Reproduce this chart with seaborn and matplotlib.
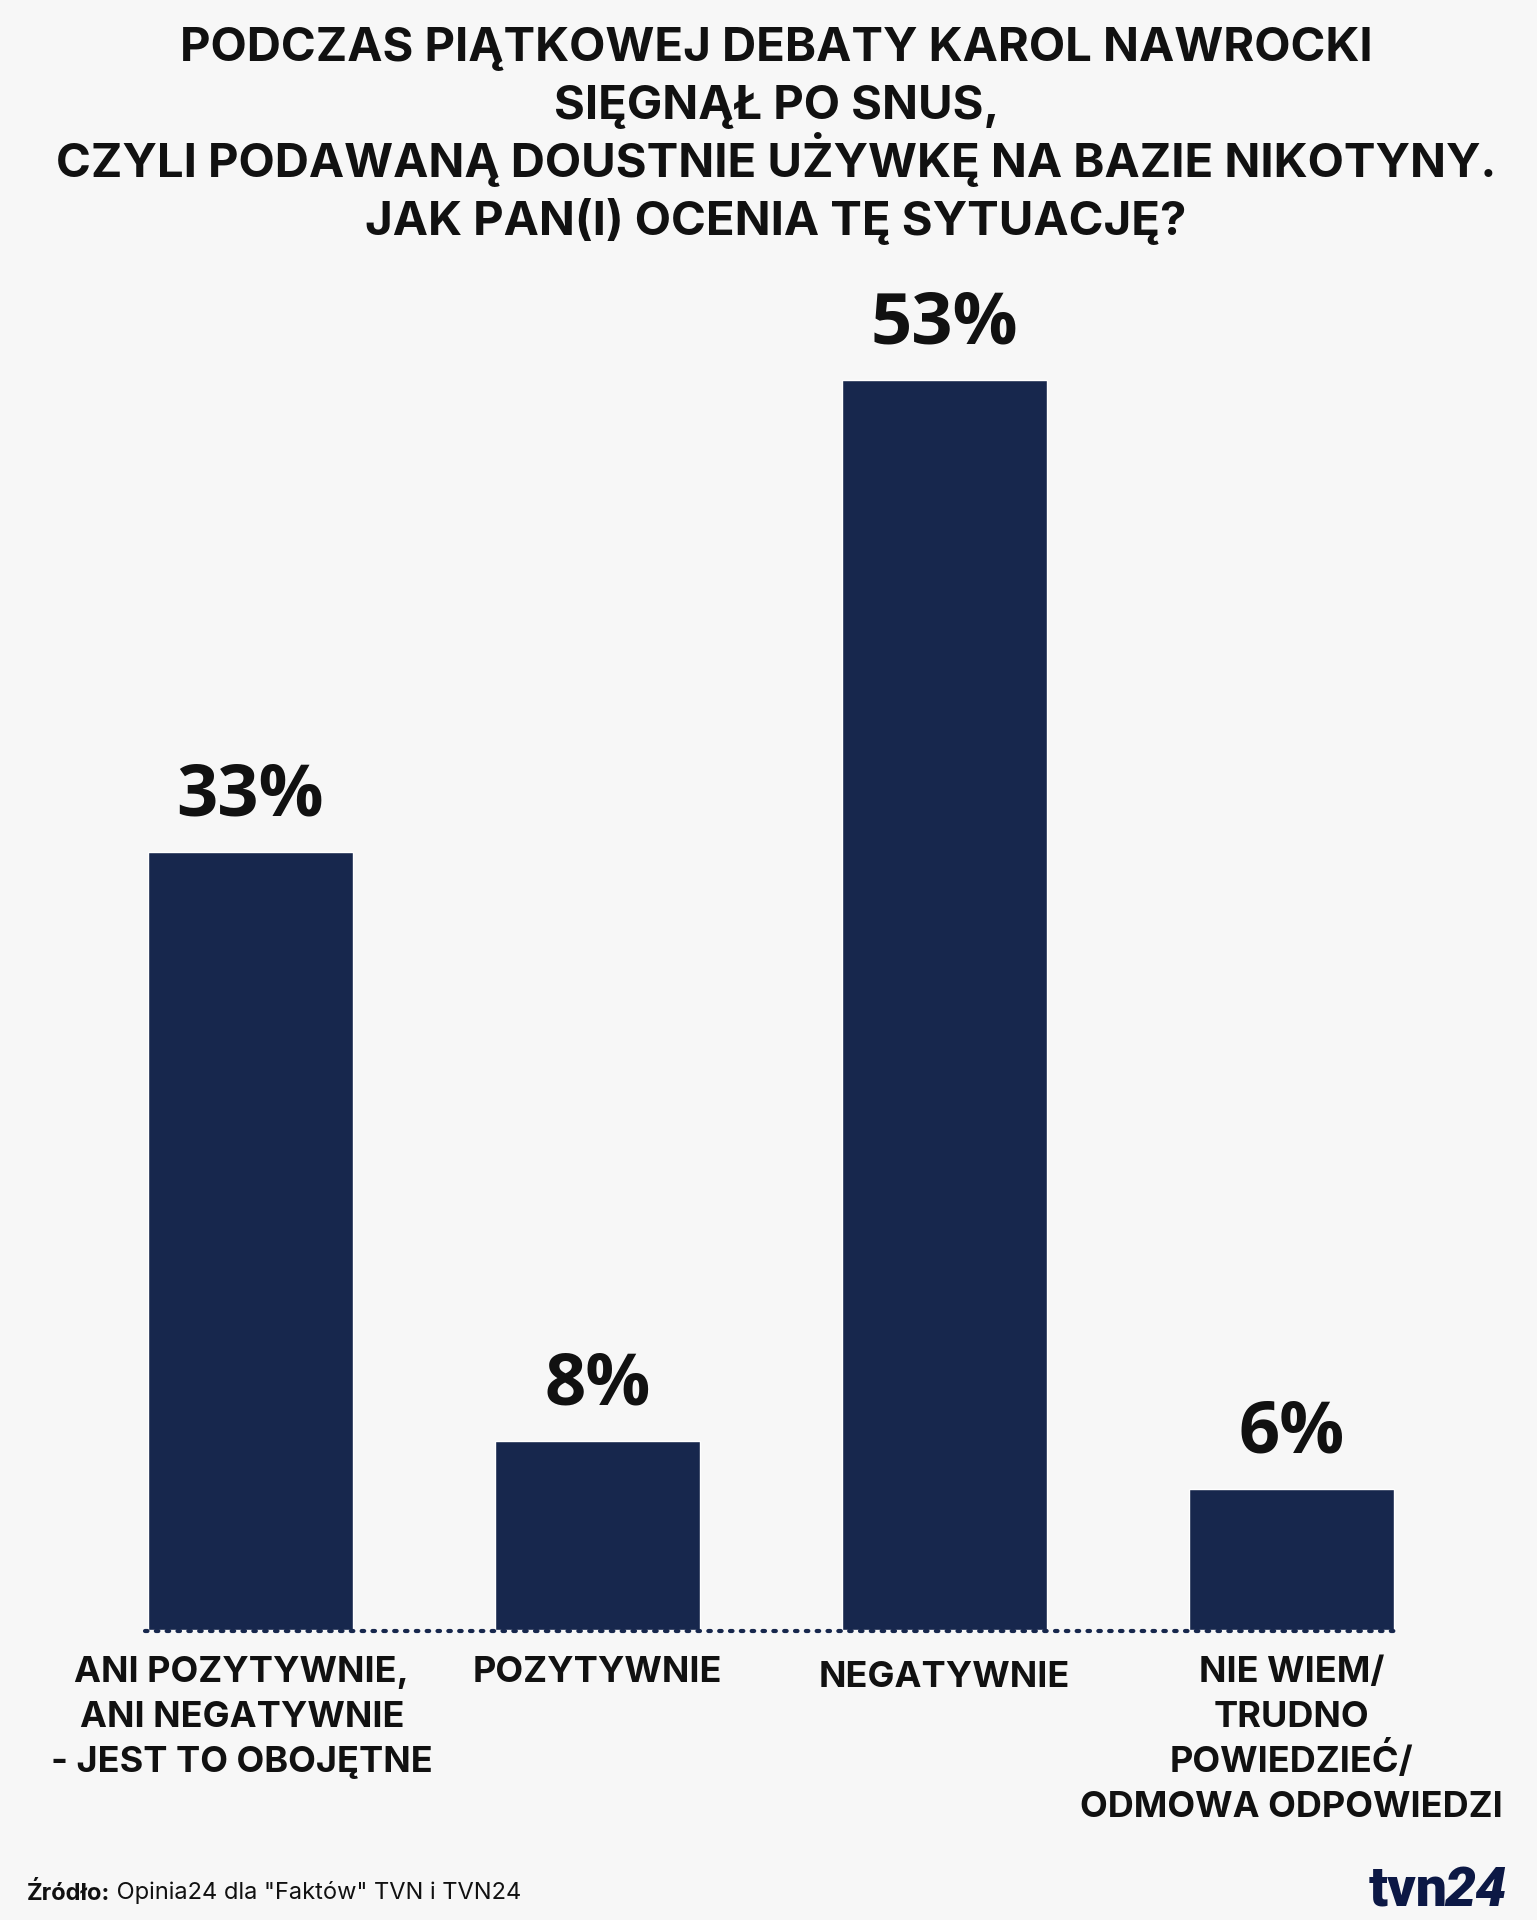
import matplotlib
matplotlib.use("Agg")
import matplotlib.pyplot as plt
import matplotlib.transforms as mtrans
import seaborn as sns
import pandas as pd

categories = [
    "ANI POZYTYWNIE,\nANI NEGATYWNIE\n- JEST TO OBOJĘTNE",
    "POZYTYWNIE",
    "NEGATYWNIE",
    "NIE WIEM/\nTRUDNO\nPOWIEDZIEĆ/\nODMOWA ODPOWIEDZI",
]
values = [33, 8, 53, 6]
value_labels = ["33%", "8%", "53%", "6%"]
title_lines = [
    "PODCZAS PIĄTKOWEJ DEBATY KAROL NAWROCKI",
    "SIĘGNĄŁ PO SNUS,",
    "CZYLI PODAWANĄ DOUSTNIE UŻYWKĘ NA BAZIE NIKOTYNY.",
    "JAK PAN(I) OCENIA TĘ SYTUACJĘ?",
]
source_bold = "Źródło:"
source_text = " Opinia24 dla \"Faktów\" TVN i TVN24"

BG = "#f7f7f7"
NAVY = "#17274d"

sns.set_theme(style="white")
plt.rcParams["font.family"] = ["Inter", "DejaVu Sans"]

df = pd.DataFrame({"cat": categories, "val": values})

W, H = 1537, 1920
fig = plt.figure(figsize=(W / 100, H / 100), dpi=100, facecolor=BG)
ax = fig.add_axes([0.0943, 0.151, 0.8166, 0.737])
ax.set_facecolor(BG)
sns.barplot(data=df, x="cat", y="val", color=NAVY, width=0.59, saturation=1, ax=ax)

ax.set_xlim(-0.304, 3.313)
ax.set_ylim(0, 60)
for s in ax.spines.values():
    s.set_visible(False)
ax.set_yticks([])
ax.set_xlabel("")
ax.set_ylabel("")
ax.set_xticks([])

# dotted baseline
ax.plot([-0.304, 3.313], [-0.04, -0.04], linestyle=(0, (0.6, 2.0)), color=NAVY,
        linewidth=3, solid_capstyle="round", dash_capstyle="round", clip_on=False)

for i, (v, lab) in enumerate(zip(values, value_labels)):
    ax.annotate(lab, (i, v), xytext=(0, 14), textcoords="offset points",
                ha="center", va="bottom", fontsize=52, fontweight="bold",
                family=["Open Sans", "DejaVu Sans"], color="#111111")

# category labels, one line at a time at fixed pixel baselines
blend = mtrans.blended_transform_factory(ax.transData, fig.transFigure)
line_rows = [1682, 1727, 1772, 1817]
x_shift = [-0.025, 0, 0, 0]
for i, c in enumerate(categories):
    for j, line in enumerate(c.split("\n")):
        y_px = line_rows[j] + (5 if c == "NEGATYWNIE" else 0)
        ax.text(i + x_shift[i], 1 - y_px / H, line, ha="center", va="baseline",
                fontsize=26, fontweight="bold", color="#111111", transform=blend)

title_rows = [61, 119, 177, 235]
for line, y_px in zip(title_lines, title_rows):
    fig.text(0.505, 1 - y_px / H, line, ha="center", va="baseline", fontsize=34,
             fontweight="bold", color="#111111")

src_y = 1 - 1893 / H
t = fig.text(0.0176, src_y, source_bold, ha="left", va="center", fontsize=17,
             fontweight="bold", color="#111111")
fig.canvas.draw()
bb = t.get_window_extent()
fig.text(bb.x1 / fig.bbox.width, src_y, source_text, ha="left", va="center",
         fontsize=17, color="#111111")

t1 = fig.text(0.8905, 0.0075, "tvn", ha="left", va="baseline", fontsize=40,
              fontweight="black", family=["Roboto", "DejaVu Sans"], color="#0c1845")
fig.canvas.draw()
bb1 = t1.get_window_extent()
fig.text(bb1.x1 / fig.bbox.width - 0.002, 0.0075, "24", ha="left", va="baseline",
         fontsize=40, fontweight="black", style="italic",
         family=["Roboto", "DejaVu Sans"], color="#0c1845")

fig.savefig("out.png", dpi=100, facecolor=BG)
